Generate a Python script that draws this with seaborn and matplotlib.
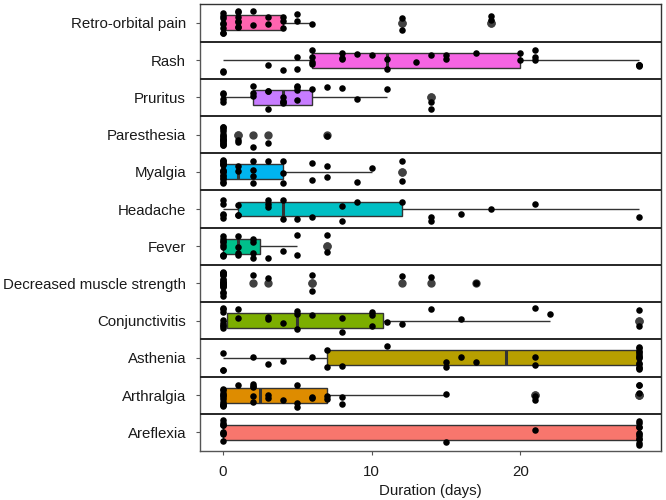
import matplotlib
matplotlib.use("Agg")
import matplotlib.pyplot as plt
import numpy as np
import pandas as pd
import seaborn as sns

# symptom order, top to bottom
symptoms = [
    "Retro-orbital pain", "Rash", "Pruritus", "Paresthesia", "Myalgia", "Headache",
    "Fever", "Decreased muscle strength", "Conjunctivitis", "Asthenia", "Arthralgia", "Areflexia",
]

# ggplot hue palette (alphabetical)
colors = {
    "Areflexia": "#F8766D", "Arthralgia": "#DE8C00", "Asthenia": "#B79F00",
    "Conjunctivitis": "#7CAE00", "Decreased muscle strength": "#00BA38", "Fever": "#00C08B",
    "Headache": "#00BFC4", "Myalgia": "#00B4F0", "Paresthesia": "#619CFF",
    "Pruritus": "#C77CFF", "Rash": "#F564E3", "Retro-orbital pain": "#FF64B0",
}

# durations in days
retro_orbital = [0] * 8 + [1] * 7 + [2, 2, 3, 3, 4, 4, 4, 5, 5, 6, 12, 12, 18, 18]
rash = [0, 0, 3, 4, 5, 5, 6, 6, 6, 6, 8, 8, 8, 9, 10, 11, 11, 13, 14, 15, 15, 17, 20, 20,
        21, 21, 21, 28, 28, 28, 28]
pruritus = [0] * 4 + [2] * 3 + [3] * 3 + [4] * 4 + [5] * 4 + [6, 7, 8, 9, 11, 14, 14]
paresthesia = [0] * 16 + [1, 1, 2, 3, 7]
myalgia = [0] * 17 + [1, 1, 2, 2, 2, 2, 3, 4, 4, 4, 6, 6, 7, 7, 9, 10, 12, 12]
headache = [0] * 5 + [1] * 3 + [3, 3, 3, 4, 4, 5, 6, 8, 8, 9, 12, 14, 14, 16, 18, 21, 28]
fever = [0] * 9 + [1] * 4 + [2] * 4 + [3, 4, 5, 5, 7, 7]
decreased_strength = [0] * 22 + [2, 3, 6, 6, 12, 14, 17]
conjunctivitis = [0] * 8 + [1, 1, 3, 3, 4, 5, 5, 5, 6, 8, 8, 10, 10, 10, 11, 12, 14, 16,
                            21, 22, 28, 28]
asthenia = [0, 0, 0, 2, 3, 4, 6, 7, 7, 8, 11, 15, 15, 16, 17, 21, 21] + [28] * 13
arthralgia = [0] * 12 + [1] + [2] * 5 + [3, 3, 4, 5, 5, 5, 6, 6, 7, 7, 8, 8, 15, 21, 21,
                                         28, 28, 28]
areflexia = [0] * 8 + [15, 21] + [28] * 11

durations = {
    "Retro-orbital pain": retro_orbital, "Rash": rash, "Pruritus": pruritus,
    "Paresthesia": paresthesia, "Myalgia": myalgia, "Headache": headache, "Fever": fever,
    "Decreased muscle strength": decreased_strength, "Conjunctivitis": conjunctivitis,
    "Asthenia": asthenia, "Arthralgia": arthralgia, "Areflexia": areflexia,
}

df = pd.DataFrame(
    [{"symptom": s, "duration": v} for s in symptoms for v in durations[s]]
)

sns.set_style("white")
plt.rcParams["font.family"] = ["Liberation Sans", "DejaVu Sans"]

fig = plt.figure(figsize=(6.66, 5.0), dpi=100)
ax = fig.add_axes([0.3003, 0.098, 0.6922, 0.8934])

edge = "#333333"
sns.boxplot(
    data=df, x="duration", y="symptom", hue="symptom", order=symptoms,
    hue_order=symptoms, palette=colors, saturation=1, width=0.4, linewidth=1.0,
    linecolor=edge, legend=False, ax=ax, whis=1.5, showcaps=False,
    medianprops={"linewidth": 2.2, "color": edge},
    flierprops={"marker": "o", "markersize": 5.0, "markerfacecolor": "#404040",
                "markeredgecolor": "#404040"},
)
np.random.seed(3)
sns.stripplot(
    data=df, x="duration", y="symptom", order=symptoms, color="black", size=4.7,
    jitter=0.34, linewidth=0, ax=ax,
)

for i in range(len(symptoms) - 1):
    ax.axhline(i + 0.5, color="#262626", linewidth=1.4, zorder=5)

ax.set_xlim(-1.55, 29.45)
ax.set_ylim(len(symptoms) - 0.5, -0.5)
ax.set_xticks([0, 10, 20])
ax.set_xlabel("Duration (days)", fontsize=10.8, color="#1a1a1a", labelpad=3.5)
ax.set_ylabel("")
ax.tick_params(axis="both", labelsize=10.8, labelcolor="#1a1a1a", color="#555555",
               length=3, width=0.8)
ax.tick_params(axis="x", bottom=True, pad=7)
ax.tick_params(axis="y", left=True, pad=7)
for name, sp in ax.spines.items():
    sp.set_visible(True)
    sp.set_linewidth(1.0)
    sp.set_color("#555555" if name in ("left", "bottom") else "#333333")

fig.savefig("out.png", dpi=100)
